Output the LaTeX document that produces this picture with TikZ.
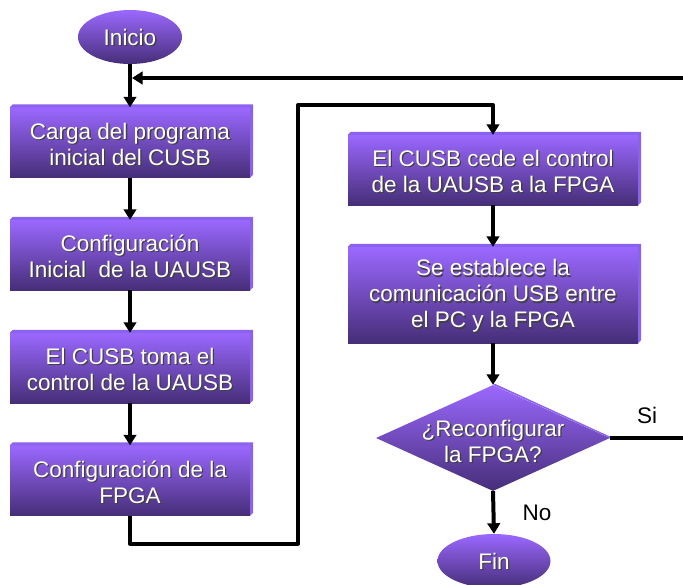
\documentclass[tikz,border=0pt]{standalone}
\usepackage{fontspec}
\setmainfont{Liberation Sans}
\usetikzlibrary{shapes.geometric,arrows.meta}

\definecolor{vtop}{RGB}{155,104,255}
\definecolor{vmid}{RGB}{122,80,212}
\definecolor{vbot}{RGB}{70,46,120}
\definecolor{vedge}{RGB}{138,98,238}

\tikzset{
  shadefill/.style={top color=vtop, middle color=vmid, bottom color=vbot},
  procbox/.style={rectangle, inner sep=0pt, minimum width=240pt, minimum height=70pt, shadefill},
  terminal/.style={ellipse, inner sep=0pt, minimum width=104pt, minimum height=54pt, shadefill},
  decision/.style={diamond, inner sep=0pt, minimum width=234pt, minimum height=106pt, shadefill},
  flow/.style={line width=4pt, line join=round, -{Triangle[width=12.5pt,length=10.5pt]}},
  txt/.style={text=white, align=center, inner sep=0pt, font=\fontsize{22.5}{26}\selectfont},
  txtsh/.style={txt, text=black!75},
  lbl/.style={inner sep=0pt, font=\fontsize{22.5}{26}\selectfont}
}

% raised edge on the top and right side of a box
\newcommand\bevel[1]{%
  \fill[vedge] (#1.north west) -- ++(3pt,3pt) -| ([shift={(3pt,3pt)}]#1.south east)
    -- (#1.south east) -- (#1.north east) -- cycle;}
% white label with a dark drop shadow: name, node, vertical offset, text
\newcommand\shtxt[4]{%
  \node[txtsh] (#1-sh) at ([xshift=1.3pt,yshift=#3-1.3pt]#2.center) {#4};
  \node[txt] (#1-tx) at ([yshift=#3]#2.center) {#4};}

\begin{document}
\begin{tikzpicture}[x=1pt,y=-1pt]
\useasboundingbox (0,0) rectangle (683,584);
\clip (0,0) rectangle (683,584);

% left column
\node[terminal] (ini) at (130,37) {};
\node[procbox] (b1) at (130,142.5) {};
\node[procbox] (b2) at (130,255) {};
\node[procbox] (b3) at (130,368) {};
\node[procbox] (b4) at (130,480.5) {};
\foreach \b in {b1,b2,b3,b4} {\bevel{\b}}

% right column
\node[procbox, minimum width=290pt] (b5) at (493,170) {};
\node[procbox, minimum width=290pt, minimum height=96pt] (b6) at (493,295) {};
\foreach \b in {b5,b6} {\bevel{\b}}
\node[decision] (dec) at (493,438) {};
\fill[vedge] (dec.north) -- ([shift={(2pt,1pt)}]dec.north) -- ([xshift=3pt]dec.east)
  -- (dec.east) -- cycle;
\node[terminal, minimum width=113pt] (fin) at (494,561) {};

% texts
\shtxt{tini}{ini}{0pt}{Inicio}
\shtxt{t1}{b1}{-1.5pt}{Carga del programa\\inicial del CUSB}
\shtxt{t2}{b2}{-1.5pt}{Configuración\\Inicial\ \ de la UAUSB}
\shtxt{t3}{b3}{-1.5pt}{El CUSB toma el\\control de la UAUSB}
\shtxt{t4}{b4}{-1.5pt}{Configuración de la\\FPGA}
\shtxt{t5}{b5}{-1pt}{El CUSB cede el control\\de la UAUSB a la FPGA}
\shtxt{t6}{b6}{-1pt}{Se establece la\\comunicación USB entre\\el PC y la FPGA}
\shtxt{tdec}{dec}{-3pt}{¿Reconfigurar\\la FPGA?}
\shtxt{tfin}{fin}{0pt}{Fin}

\node[lbl] (si) at (647,415) {Si};
\node[lbl] (no) at (537,513) {No};

% connectors
\coordinate (join) at (132,78);
\draw[flow] (ini.south) -- (b1.north);
\draw[flow] (b1.south) -- (b2.north);
\draw[flow] (b2.south) -- (b3.north);
\draw[flow] (b3.south) -- (b4.north);
\draw[flow] (b4.south) -- ++(0,28) -| (298,105) -| (b5.north);
\draw[flow] (b5.south) -- (b6.north);
\draw[flow] (b6.south) -- (dec.north);
\draw[flow] (dec.south) -- (fin.north);
\draw[flow] (dec.east) -- (700,438) |- (join);
\end{tikzpicture}
\end{document}
